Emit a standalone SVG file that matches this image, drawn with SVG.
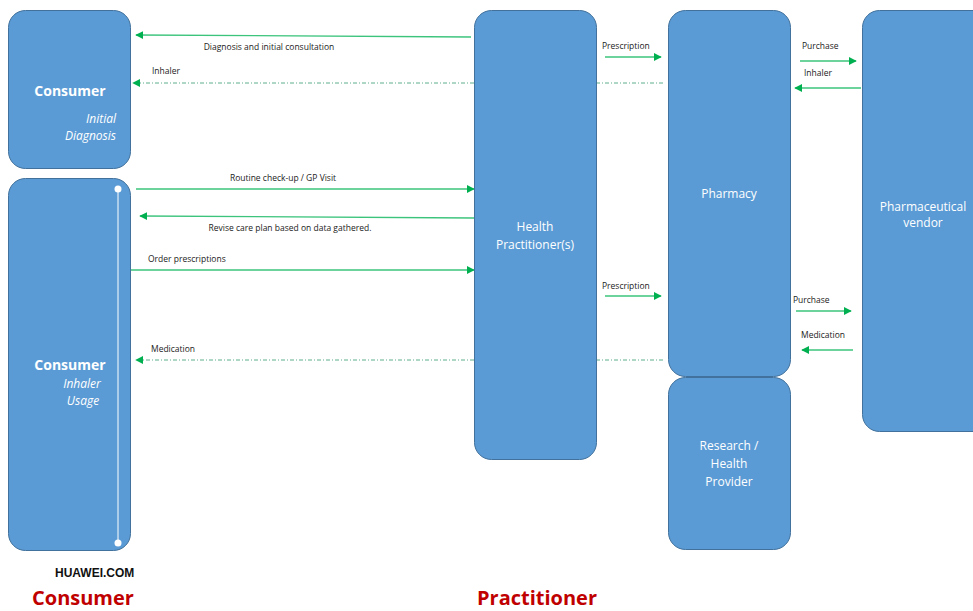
<svg xmlns="http://www.w3.org/2000/svg" width="973" height="611" viewBox="0 0 973 611">
  <defs>
    <marker id="head" viewBox="0 0 10 10" refX="9" refY="5" markerWidth="8" markerHeight="8" markerUnits="userSpaceOnUse" orient="auto">
      <path d="M0,0 L10,5 L0,10 z" fill="#00B050"/>
    </marker>
    <style>
      .node { fill: #5B9BD5; stroke: #41719C; stroke-width: 1; }
      .title { font-family: "Open Sans", "Noto Sans", sans-serif; font-weight: bold; font-size: 14px; fill: #ffffff; }
      .lbl { font-family: "Open Sans", "Noto Sans", sans-serif; font-size: 12px; fill: #ffffff; }
      .sub { font-family: "Open Sans", "Noto Sans", sans-serif; font-style: italic; font-size: 12px; fill: #ffffff; }
      .flow { stroke: #3CC47C; stroke-width: 1.3; fill: none; marker-end: url(#head); }
      .back { stroke: #5FAE8C; stroke-width: 1; fill: none; stroke-dasharray: 4 2 1 2; marker-end: url(#head); }
      .cap { font-family: "Open Sans", "Noto Sans", sans-serif; font-size: 8.5px; fill: #222222; }
      .lane { font-family: "Open Sans", "Noto Sans", sans-serif; font-weight: bold; font-size: 20px; fill: #C00000; }
    </style>
  </defs>
  <rect width="973" height="611" fill="#ffffff"/>

  <!-- connectors (drawn under the nodes) -->
  <g id="connectors">
    <line class="flow" x1="471" y1="37" x2="136" y2="35"/>
    <text class="cap" x="269" y="50" text-anchor="middle">Diagnosis and initial consultation</text>
    <line class="back" x1="663" y1="83" x2="133" y2="83"/>
    <text class="cap" x="152" y="74">Inhaler</text>

    <line class="flow" x1="136" y1="189" x2="474" y2="189"/>
    <text class="cap" x="283" y="181" text-anchor="middle">Routine check-up / GP Visit</text>
    <line class="flow" x1="474" y1="218" x2="140" y2="216"/>
    <text class="cap" x="290" y="231" text-anchor="middle">Revise care plan based on data gathered.</text>
    <line class="flow" x1="131" y1="270" x2="474" y2="270"/>
    <text class="cap" x="148" y="262">Order prescriptions</text>
    <line class="back" x1="663" y1="360" x2="136" y2="360"/>
    <text class="cap" x="151" y="352">Medication</text>

    <line class="flow" x1="605" y1="57" x2="661" y2="57"/>
    <text class="cap" x="602" y="49">Prescription</text>
    <line class="flow" x1="605" y1="296" x2="661" y2="296"/>
    <text class="cap" x="602" y="289">Prescription</text>

    <line class="flow" x1="800" y1="61" x2="856" y2="61"/>
    <text class="cap" x="802" y="49">Purchase</text>
    <line class="flow" x1="861" y1="88" x2="795" y2="88"/>
    <text class="cap" x="804" y="76">Inhaler</text>
    <line class="flow" x1="796" y1="311" x2="851" y2="311"/>
    <text class="cap" x="793" y="303">Purchase</text>
    <line class="flow" x1="853" y1="350" x2="802" y2="350"/>
    <text class="cap" x="801" y="338">Medication</text>
  </g>

  <g id="consumer-initial">
    <rect class="node" x="8.5" y="10.5" width="122" height="158" rx="17"/>
    <text class="title" x="70" y="96" text-anchor="middle" font-size="14.5">Consumer</text>
    <text class="sub" x="116" y="123" text-anchor="end">Initial</text>
    <text class="sub" x="116" y="140" text-anchor="end">Diagnosis</text>
  </g>

  <g id="consumer-usage">
    <rect class="node" x="8.5" y="178.5" width="122" height="372" rx="17"/>
    <line x1="118" y1="189" x2="118" y2="543" stroke="#ffffff" stroke-width="1"/>
    <circle cx="118" cy="189" r="3.5" fill="#ffffff"/>
    <circle cx="118" cy="543" r="3.5" fill="#ffffff"/>
    <text class="title" x="70" y="370" text-anchor="middle" font-size="14.5">Consumer</text>
    <text class="sub" x="82" y="388" text-anchor="middle">Inhaler</text>
    <text class="sub" x="83" y="405" text-anchor="middle">Usage</text>
  </g>

  <g id="health-practitioner">
    <rect class="node" x="474.5" y="10.5" width="122" height="449" rx="17"/>
    <text class="lbl" x="535" y="231" text-anchor="middle">Health</text>
    <text class="lbl" x="535" y="249" text-anchor="middle">Practitioner(s)</text>
  </g>

  <g id="pharmacy">
    <rect class="node" x="668.5" y="10.5" width="122" height="366" rx="17"/>
    <text class="lbl" x="729" y="198" text-anchor="middle">Pharmacy</text>
  </g>

  <g id="research-provider">
    <rect class="node" x="668.5" y="377.5" width="122" height="172" rx="17"/>
    <text class="lbl" x="729" y="450" text-anchor="middle">Research /</text>
    <text class="lbl" x="729" y="468" text-anchor="middle">Health</text>
    <text class="lbl" x="729" y="486" text-anchor="middle">Provider</text>
  </g>

  <g id="pharma-vendor">
    <rect class="node" x="862.5" y="10.5" width="130" height="421" rx="17"/>
    <text class="lbl" x="923" y="211" text-anchor="middle">Pharmaceutical</text>
    <text class="lbl" x="923" y="227" text-anchor="middle">vendor</text>
  </g>

  <text x="55" y="577" font-family="'Liberation Sans', Arial, sans-serif" font-weight="bold" font-size="12" fill="#111111">HUAWEI.COM</text>
  <text class="lane" x="32" y="605">Consumer</text>
  <text class="lane" x="477" y="605">Practitioner</text>
</svg>
